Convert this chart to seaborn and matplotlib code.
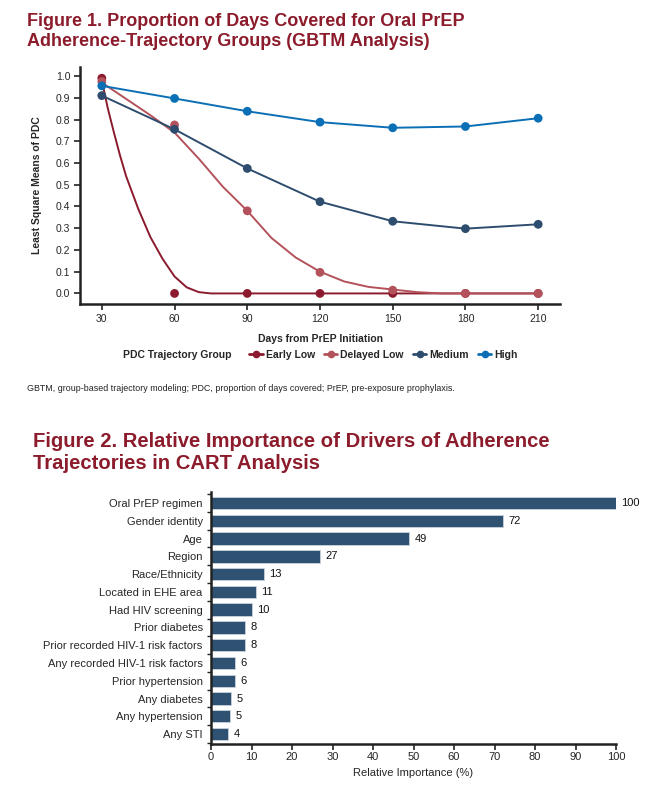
import numpy as np
import pandas as pd
import matplotlib
matplotlib.use("Agg")
import matplotlib.pyplot as plt
import seaborn as sns
from matplotlib.lines import Line2D
from matplotlib.ticker import MultipleLocator, FixedLocator

# ---------------- data: Figure 1 ----------------
days = [30, 60, 90, 120, 150, 180, 210]
groups = ["Early Low", "Delayed Low", "Medium", "High"]
early_low = [0.99, 0.0, 0.0, 0.0, 0.0, 0.0, 0.0]
delayed_low = [0.975, 0.775, 0.38, 0.097, 0.015, 0.0, 0.0]
medium = [0.91, 0.755, 0.575, 0.422, 0.332, 0.298, 0.318]
high = [0.955, 0.897, 0.838, 0.788, 0.762, 0.768, 0.806]

# fitted trajectory curves
fit_days_early = [30, 32.5, 35, 37.5, 40, 45, 50, 55, 60, 65, 70, 75, 90, 120, 150, 180, 210]
fit_early = [0.98, 0.85, 0.74, 0.635, 0.54, 0.39, 0.26, 0.16, 0.078, 0.028, 0.006, 0.0, 0.0, 0.0, 0.0, 0.0, 0.0]
fit_days_delayed = [30, 40, 50, 60, 70, 80, 90, 100, 110, 120, 130, 140, 150, 160, 170, 180, 210]
fit_delayed = [0.97, 0.895, 0.82, 0.74, 0.62, 0.49, 0.38, 0.255, 0.165, 0.10, 0.055, 0.03, 0.018, 0.006, 0.0, 0.0, 0.0]

# ---------------- data: Figure 2 ----------------
drivers = ["Oral PrEP regimen", "Gender identity", "Age", "Region", "Race/Ethnicity",
           "Located in EHE area", "Had HIV screening", "Prior diabetes",
           "Prior recorded HIV-1 risk factors", "Any recorded HIV-1 risk factors",
           "Prior hypertension", "Any diabetes", "Any hypertension", "Any STI"]
importance = [100, 72, 49, 27, 13, 11, 10, 8.3, 8.3, 6, 6, 4.9, 4.7, 4.2]
x_ticks2 = [0, 10, 20, 30, 40, 50, 60, 70, 80, 90, 100]

colors = {"Early Low": "#8C1A2E", "Delayed Low": "#B4525B",
          "Medium": "#2E4D6E", "High": "#0B6FB5"}
title_color = "#8C1C2C"
bar_color = "#2F5273"

sns.set_theme(style="ticks")
plt.rcParams["font.family"] = ["Liberation Sans", "DejaVu Sans"]

W, H = 662, 787
fig = plt.figure(figsize=(W / 100, H / 100), dpi=100)

def fx(px):
    return px / W

def fy(py):
    return 1 - py / H

# ---------------- Figure 1 ----------------
fig.text(fx(27), fy(13), "Figure 1. Proportion of Days Covered for Oral PrEP\nAdherence-Trajectory Groups (GBTM Analysis)",
         ha="left", va="top", fontsize=13, fontweight="bold", color=title_color,
         linespacing=1.2)

ax1 = fig.add_axes([fx(80), fy(304.3), fx(560) - fx(80), fy(66.7) - fy(304.3)])

obs = pd.DataFrame({
    "day": days * 4,
    "pdc": early_low + delayed_low + medium + high,
    "group": sum([[g] * len(days) for g in groups], []),
})
fits = pd.concat([
    pd.DataFrame({"day": fit_days_early, "pdc": fit_early, "group": "Early Low"}),
    pd.DataFrame({"day": fit_days_delayed, "pdc": fit_delayed, "group": "Delayed Low"}),
    obs[obs.group == "Medium"],
    obs[obs.group == "High"],
], ignore_index=True)

for g in groups:
    sub_fit = fits[fits.group == g]
    sub_obs = obs[obs.group == g]
    sns.lineplot(data=sub_fit, x="day", y="pdc", color=colors[g], lw=1.4, ax=ax1,
                 sort=True, estimator=None, legend=False)
    sns.scatterplot(data=sub_obs, x="day", y="pdc", color=colors[g], s=40, ax=ax1,
                    edgecolor="none", legend=False, zorder=3)

ax1.set_xlim(21, 219)
ax1.set_ylim(-0.05, 1.043)
ax1.xaxis.set_major_locator(FixedLocator(days))
ax1.yaxis.set_major_locator(MultipleLocator(0.1))
ax1.yaxis.set_major_formatter(matplotlib.ticker.FormatStrFormatter("%.1f"))
ax1.tick_params(axis="both", labelsize=7.5, length=4, width=1.2, color="#222222", pad=3)
for s in ["left", "bottom"]:
    ax1.spines[s].set_linewidth(1.8)
    ax1.spines[s].set_color("#222222")
sns.despine(ax=ax1)
ax1.set_xlabel("Days from PrEP Initiation", fontsize=7.5, fontweight="bold", labelpad=7)
ax1.set_ylabel("Least Square Means of PDC", fontsize=7.5, fontweight="bold", labelpad=10)

# legend
fig.text(fx(177), fy(355), "PDC Trajectory Group", ha="center", va="center",
         fontsize=7.5, fontweight="bold")
handles = [Line2D([], [], color=colors[g], marker="o", markersize=4.5, lw=2) for g in groups]
fig.legend(handles, groups, ncol=4, loc="center left", bbox_to_anchor=(fx(249), fy(355)),
           frameon=False, handlelength=1.3, columnspacing=0.85, handletextpad=0.3,
           prop={"size": 7.5, "weight": "bold"}, borderpad=0, borderaxespad=0)

fig.text(fx(27), fy(389), "GBTM, group-based trajectory modeling; PDC, proportion of days covered; PrEP, pre-exposure prophylaxis.",
         ha="left", va="center", fontsize=6.4, color="#222222")

# ---------------- Figure 2 ----------------
fig.text(fx(33), fy(432), "Figure 2. Relative Importance of Drivers of Adherence\nTrajectories in CART Analysis",
         ha="left", va="top", fontsize=14.6, fontweight="bold", color=title_color,
         linespacing=1.2)

ax2 = fig.add_axes([fx(211), fy(744), fx(616) - fx(211), fy(492) - fy(744)])
df2 = pd.DataFrame({"driver": drivers, "importance": importance})
sns.barplot(data=df2, y="driver", x="importance", color=bar_color, saturation=1,
            width=0.7, edgecolor="#c9d2dc", linewidth=0.6, ax=ax2)
ax2.bar_label(ax2.containers[0], labels=[f"{round(v)}" for v in importance],
              padding=4, fontsize=8, color="#111111")
ax2.set_xlim(0, 100)
ax2.set_ylim(13.56, -0.62)
ax2.xaxis.set_major_locator(FixedLocator(x_ticks2))
ax2.yaxis.set_minor_locator(FixedLocator(np.arange(-0.5, 14, 1)))
ax2.tick_params(axis="y", which="major", length=0, labelsize=8, pad=6)
ax2.tick_params(axis="y", which="minor", length=3, width=1, color="#222222")
ax2.tick_params(axis="x", labelsize=8, length=4, width=1.2, color="#222222", pad=2)
for s in ["left", "bottom"]:
    ax2.spines[s].set_linewidth(1.8)
    ax2.spines[s].set_color("#222222")
sns.despine(ax=ax2)
ax2.set_ylabel("")
ax2.set_xlabel("Relative Importance (%)", fontsize=8, labelpad=4)

fig.savefig("out.png", dpi=100, facecolor="white")
